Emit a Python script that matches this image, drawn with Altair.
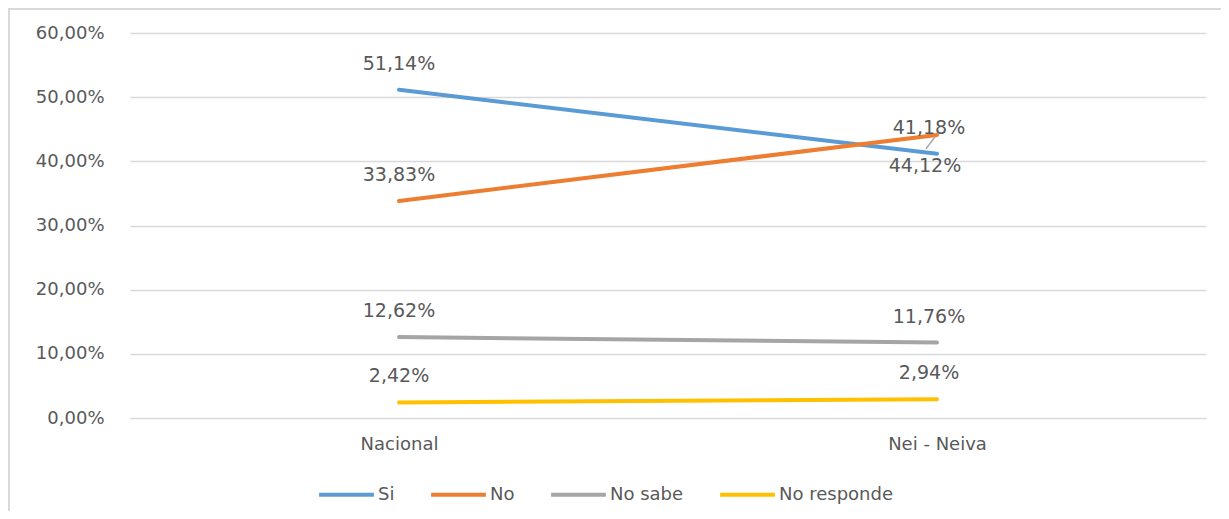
import altair as alt
import pandas as pd

categories = ["Nacional", "Nei - Neiva"]
series = ["Si", "No", "No sabe", "No responde"]
si = [51.14, 41.18]
no = [33.83, 44.12]
no_sabe = [12.62, 11.76]
no_responde = [2.42, 2.94]
colors = ["#5B9BD5", "#ED7D31", "#A5A5A5", "#FFC000"]
y_ticks = [0, 10, 20, 30, 40, 50, 60]

rows = []
for s_i, (name, vals) in enumerate(zip(series, [si, no, no_sabe, no_responde])):
    for c, v in zip(categories, vals):
        rows.append({"cat": c, "serie": name, "val": v, "order": s_i})
df = pd.DataFrame(rows)

FONT = "DejaVu Sans"
TXT = "#595959"

x_enc = alt.X("cat:N", sort=categories,
              scale=alt.Scale(type="point", padding=0.5),
              axis=alt.Axis(title=None, domain=True, domainColor="#D9D9D9", ticks=False,
                            labelAngle=0, labelFontSize=18, labelColor=TXT, labelFont=FONT,
                            labelPadding=17, grid=False))
y_enc = alt.Y("val:Q", scale=alt.Scale(domain=[0, 60], nice=False),
              axis=alt.Axis(title=None, values=y_ticks, domain=False, ticks=False,
                            labelExpr="replace(format(datum.value, '.2f'), '.', ',') + '%'",
                            labelFontSize=18, labelColor=TXT, labelFont=FONT, labelPadding=26,
                            gridColor="#D9D9D9", gridWidth=1.5))

base = alt.Chart(df)

lines = base.mark_line(strokeWidth=4, strokeCap="round").encode(
    x=x_enc, y=y_enc,
    color=alt.Color("serie:N", sort=series,
                    scale=alt.Scale(domain=series, range=colors),
                    legend=alt.Legend(title=None, orient="none", direction="horizontal",
                                      legendX=187, legendY=432,
                                      symbolType="stroke", symbolSize=3000, symbolStrokeWidth=4,
                                      labelFontSize=18, labelColor=TXT, labelFont=FONT,
                                      labelOffset=2, columnPadding=28)),
    order=alt.Order("order:Q"),
    detail="serie:N",
)

lab_fmt = "replace(format(datum.val, '.2f'), '.', ',') + '%'"

def labels(filt, dx, dy):
    return base.transform_filter(filt).transform_calculate(lab=lab_fmt).mark_text(
        fontSize=19, font=FONT, color=TXT, dx=dx, dy=dy, baseline="middle"
    ).encode(x=alt.X("cat:N", sort=categories), y="val:Q", text="lab:N")

lab_nac = labels("datum.cat == 'Nacional'", 0, -26)
lab_nei = labels("datum.cat == 'Nei - Neiva' && datum.serie != 'No'", -8, -26)
lab_nei_no = labels("datum.cat == 'Nei - Neiva' && datum.serie == 'No'", -12, 31)

leader = base.transform_filter("datum.cat == 'Nei - Neiva' && datum.serie == 'No'").mark_rule(
    color="#A5A5A5", strokeWidth=1.5, xOffset=-2, x2Offset=-11, yOffset=2, y2Offset=14
).encode(x=alt.X("cat:N", sort=categories), x2=alt.X2("cat:N"),
         y="val:Q", y2=alt.Y2("val:Q"))

frame = alt.Chart(pd.DataFrame({"a": [0]})).mark_rect(
    fill=None, stroke="#D9D9D9", strokeWidth=2
).encode(x=alt.value(-121), x2=alt.value(1300), y=alt.value(-24), y2=alt.value(700))

chart = alt.layer(frame, lines, leader, lab_nac, lab_nei, lab_nei_no).properties(
    width=1076, height=385,
    background="white",
    autosize=alt.AutoSizeParams(type="none"),
    padding={"left": 122, "top": 25, "right": 15, "bottom": 93},
).configure_view(strokeWidth=0, stroke="transparent")

chart.save("out.html", embed_options={"renderer": "svg", "actions": False})
